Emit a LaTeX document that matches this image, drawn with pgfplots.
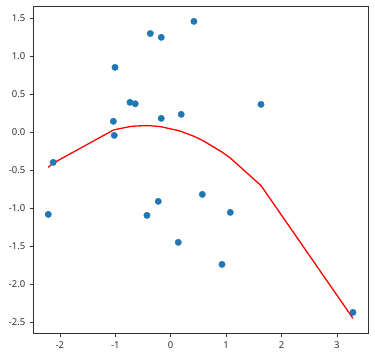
\documentclass[border=0pt]{standalone}
\usepackage{fontspec}
\setmainfont{Noto Sans}
\usepackage{pgfplots}
\pgfplotsset{compat=1.18}
\definecolor{mblue}{HTML}{1F77B4}
\definecolor{spine}{HTML}{333333}
\begin{document}
\begin{tikzpicture}
\begin{axis}[
  width=335pt, height=326.7pt, scale only axis,
  xmin=-2.48, xmax=3.567, ymin=-2.645, ymax=1.653,
  axis line style={spine, line width=0.9pt},
  tick style={spine, line width=0.7pt},
  tick align=outside, tick pos=left,
  major tick length=3.5pt,
  xtick={-2,-1,0,1,2,3},
  xticklabels={-2,-1,0,1,2,3},
  ytick={-2.5,-2,-1.5,-1,-0.5,0,0.5,1,1.5},
  yticklabels={-2.5,-2.0,-1.5,-1.0,-0.5,0.0,0.5,1.0,1.5},
  ticklabel style={font=\fontsize{9.5}{11}\selectfont, text=spine},
  xticklabel style={yshift=-1pt},
  yticklabel style={xshift=-1pt},
]
\addplot[only marks, mark=*, mark size=3.2pt, mblue, mark options={draw=mblue, fill=mblue}] coordinates {
(-2.12,-0.395) (-1.005,0.855) (-1.035,0.145) (-1.018,-0.04) (-0.735,0.395)
(-0.64,0.376) (-0.368,1.30) (-0.17,1.25) (-0.17,0.184) (0.19,0.237)
(0.42,1.46) (1.63,0.368) (-2.21,-1.079) (-0.428,-1.092) (-0.224,-0.908)
(0.137,-1.447) (0.571,-0.816) (1.076,-1.053) (0.926,-1.737) (3.29,-2.368)
};
\addplot[red, line width=1.3pt] coordinates {
(-2.21,-0.460) (-2.12,-0.405) (-1.035,0.030) (-1.018,0.0335) (-1.005,0.036)
(-0.735,0.076) (-0.64,0.083) (-0.428,0.0885) (-0.368,0.087) (-0.224,0.078)
(-0.17,0.073) (0.137,0.0237) (0.19,0.0118) (0.42,-0.052) (0.571,-0.104)
(0.926,-0.259) (1.076,-0.338) (1.63,-0.700) (3.29,-2.447)
};
\path (rel axis cs:0,0) ++(-33.3pt,-22.7pt) coordinate (bl);
\path (rel axis cs:1,1) ++(6.7pt,6.7pt) coordinate (tr);
\end{axis}
\useasboundingbox (bl) rectangle (tr);
\end{tikzpicture}
\end{document}
